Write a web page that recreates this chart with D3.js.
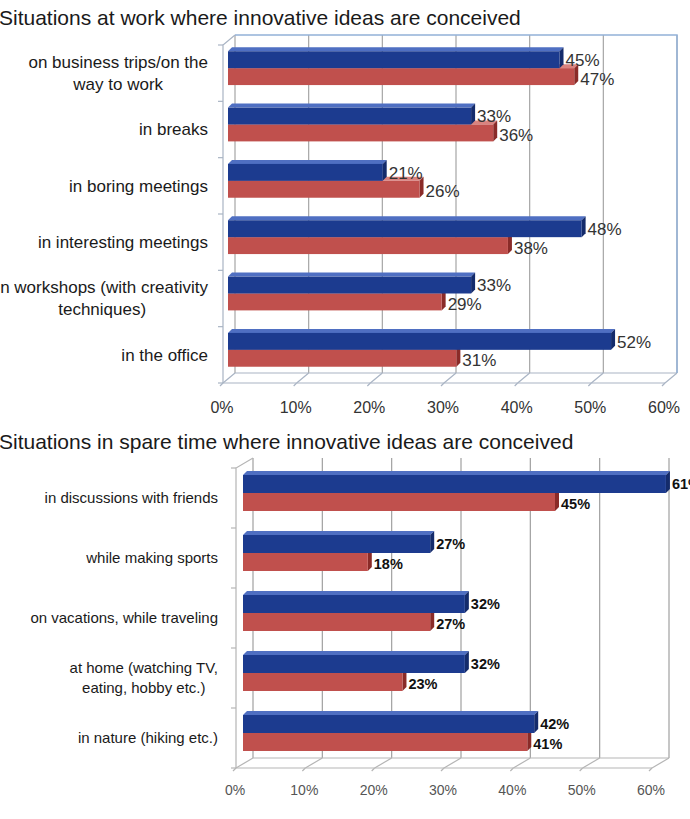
<!DOCTYPE html>
<html>
<head>
<meta charset="utf-8">
<script src="https://cdn.jsdelivr.net/npm/d3@7"></script>
<style>
  body { margin: 0; background: #fff; }
  svg { display: block; font-family: "Liberation Sans", Arial, sans-serif; }
</style>
</head>
<body>
<svg id="svg" width="690" height="819"></svg>
<script>
// chart data
var workTitle = "Situations at work where innovative ideas are conceived";
var workCategories = [
  ["on business trips/on the", "way to work"],
  ["in breaks"],
  ["in boring meetings"],
  ["in interesting meetings"],
  ["in workshops (with creativity", "techniques)"],
  ["in the office"]
];
var workBlue = [45, 33, 21, 48, 33, 52];
var workRed = [47, 36, 26, 38, 29, 31];

var spareTitle = "Situations in spare time where innovative ideas are conceived";
var spareCategories = [
  ["in discussions with friends"],
  ["while making sports"],
  ["on vacations, while traveling"],
  ["at home (watching TV,", "eating, hobby etc.)"],
  ["in nature (hiking etc.)"]
];
var spareBlue = [61, 27, 32, 32, 42];
var spareRed = [45, 18, 27, 23, 41];

var tickValues = [0, 10, 20, 30, 40, 50, 60];

var blue = { front: "#1c3b8f", top: "#4f6fc2", side: "#142b6b" };
var red = { front: "#c0504d", top: "#d9837f", side: "#8a2b28" };

var svg = d3.select("#svg");

function draw(cfg) {
  var g = svg.append("g");

  // title
  g.append("text")
    .attr("x", -1)
    .attr("y", cfg.titleY)
    .attr("font-size", 21)
    .attr("fill", "#1a1a1a")
    .text(cfg.title);

  // front scale (floor edge) and band scale
  var scaleX = d3.scaleLinear().domain([0, 60]).range([cfg.x0, cfg.x1]);
  var scaleY = d3.scaleBand()
    .domain(d3.range(cfg.categories.length))
    .range([cfg.yTop, cfg.yBottom])
    .paddingInner(0.4)
    .paddingOuter(0.2);
  var barH = scaleY.bandwidth() / 2;
  var dx = cfg.dx, dy = cfg.dy;           // back wall offset
  var bx = cfg.barDx, by = cfg.barDy;     // bar offset inside depth
  var d = 4;                              // bar depth

  // back wall gridlines
  g.selectAll(".grid")
    .data(tickValues)
    .enter()
    .append("line")
    .attr("x1", function(v) { return scaleX(v) + dx; })
    .attr("x2", function(v) { return scaleX(v) + dx; })
    .attr("y1", cfg.yTop + dy)
    .attr("y2", cfg.yBottom + dy)
    .attr("stroke", cfg.gridColor)
    .attr("stroke-width", 1.2);

  // floor diagonals
  g.selectAll(".floor")
    .data(tickValues)
    .enter()
    .append("line")
    .attr("x1", function(v) { return scaleX(v); })
    .attr("x2", function(v) { return scaleX(v) + dx; })
    .attr("y1", cfg.yBottom)
    .attr("y2", cfg.yBottom + dy)
    .attr("stroke", cfg.floorColor)
    .attr("stroke-width", 1.2);

  // floor edges
  g.append("line")
    .attr("x1", scaleX(0)).attr("x2", scaleX(60))
    .attr("y1", cfg.yBottom).attr("y2", cfg.yBottom)
    .attr("stroke", cfg.floorColor).attr("stroke-width", 1.2);
  g.append("line")
    .attr("x1", scaleX(0) + dx).attr("x2", scaleX(60) + dx)
    .attr("y1", cfg.yBottom + dy).attr("y2", cfg.yBottom + dy)
    .attr("stroke", cfg.floorColor).attr("stroke-width", 1.2);

  // left wall
  g.append("path")
    .attr("d", "M" + scaleX(0) + "," + cfg.yBottom +
      "V" + cfg.yTop +
      "L" + (scaleX(0) + dx) + "," + (cfg.yTop + dy))
    .attr("fill", "none")
    .attr("stroke", cfg.floorColor)
    .attr("stroke-width", 1.2);

  if (cfg.border) {
    g.append("path")
      .attr("d", "M" + (scaleX(0) + dx) + "," + (cfg.yTop + dy) +
        "H" + (scaleX(60) + dx) +
        "V" + (cfg.yBottom + dy))
      .attr("fill", "none")
      .attr("stroke", cfg.border)
      .attr("stroke-width", 1.5);
  }

  // left axis ticks
  var bounds = cfg.categories.map(function(c, i) { return cfg.yTop + i * scaleY.step(); });
  bounds.push(cfg.yBottom);
  g.selectAll(".ytick")
    .data(bounds)
    .enter()
    .append("line")
    .attr("x1", scaleX(0) - 5).attr("x2", scaleX(0))
    .attr("y1", function(y) { return y; })
    .attr("y2", function(y) { return y; })
    .attr("stroke", cfg.floorColor).attr("stroke-width", 1.2);

  // bottom axis ticks and labels
  g.selectAll(".xtick")
    .data(tickValues)
    .enter()
    .append("line")
    .attr("x1", function(v) { return scaleX(v); })
    .attr("x2", function(v) { return scaleX(v) - 3; })
    .attr("y1", cfg.yBottom)
    .attr("y2", cfg.yBottom + 3)
    .attr("stroke", cfg.floorColor).attr("stroke-width", 1.2);

  g.selectAll(".xlabel")
    .data(tickValues)
    .enter()
    .append("text")
    .attr("x", function(v) { return scaleX(v) - 1; })
    .attr("y", cfg.yBottom + cfg.tickLabelDy)
    .attr("text-anchor", "middle")
    .attr("font-size", cfg.tickSize)
    .attr("fill", cfg.tickColor)
    .text(function(v) { return v + "%"; });

  // category labels (centred lines, right-aligned block)
  cfg.categories.forEach(function(lines, i) {
    var cy = scaleY(i) + scaleY.bandwidth() / 2;
    var t = g.append("text")
      .attr("font-size", cfg.catSize)
      .attr("fill", "#1a1a1a")
      .attr("text-anchor", "middle");
    var spans = lines.map(function(line, k) {
      return t.append("tspan")
        .attr("y", cy + (k - (lines.length - 1) / 2) * cfg.lineH + cfg.catSize * 0.35)
        .text(line);
    });
    var w = d3.max(spans, function(s) { return s.node().getComputedTextLength(); });
    spans.forEach(function(s) { s.attr("x", cfg.catRight - w / 2); });
  });

  // bars
  function bar3d(x0, x1, y, h, col) {
    var b = g.append("g");
    b.append("polygon")
      .attr("points", [[x0, y], [x0 + d, y - d], [x1 + d, y - d], [x1, y]].join(" "))
      .attr("fill", col.top);
    b.append("polygon")
      .attr("points", [[x1, y], [x1 + d, y - d], [x1 + d, y + h - d], [x1, y + h]].join(" "))
      .attr("fill", col.side);
    b.append("rect")
      .attr("x", x0).attr("y", y)
      .attr("width", x1 - x0).attr("height", h)
      .attr("fill", col.front);
  }

  cfg.categories.forEach(function(c, i) {
    var yb = scaleY(i) + by;
    var xs = scaleX(0) + bx;
    bar3d(xs, scaleX(cfg.red[i]) + bx, yb + barH, barH, red);
    bar3d(xs, scaleX(cfg.blue[i]) + bx, yb, barH, blue);
  });

  // value labels
  var labels = [];
  cfg.categories.forEach(function(c, i) {
    labels.push({ v: cfg.blue[i], y: scaleY(i) + by + barH / 2 });
    labels.push({ v: cfg.red[i], y: scaleY(i) + by + barH * 1.5 + 2 });
  });
  g.selectAll(".val")
    .data(labels)
    .enter()
    .append("text")
    .attr("x", function(l) { return scaleX(l.v) + bx + d + 2; })
    .attr("y", function(l) { return l.y + cfg.valSize * 0.36; })
    .attr("font-size", cfg.valSize)
    .attr("font-weight", cfg.valWeight)
    .attr("fill", cfg.valColor)
    .text(function(l) { return l.v + "%"; });
}

draw({
  title: workTitle, titleY: 25,
  categories: workCategories, blue: workBlue, red: workRed,
  x0: 223, x1: 665, yTop: 45, yBottom: 383,
  dx: 12, dy: -10, barDx: 5, barDy: -5,
  gridColor: "#a5a5a5", floorColor: "#a9b4c4", border: "#93b1d8",
  tickSize: 16, tickColor: "#333", tickLabelDy: 30,
  catSize: 17, catRight: 208, lineH: 22,
  valSize: 17, valWeight: "normal", valColor: "#333"
});

draw({
  title: spareTitle, titleY: 449,
  categories: spareCategories, blue: spareBlue, red: spareRed,
  x0: 236, x1: 652, yTop: 468, yBottom: 768,
  dx: 17, dy: -10, barDx: 7, barDy: -5,
  gridColor: "#a0a0a0", floorColor: "#b5b5b5", border: null,
  tickSize: 14, tickColor: "#555", tickLabelDy: 27,
  catSize: 15, catRight: 218, lineH: 20,
  valSize: 14.5, valWeight: "bold", valColor: "#111"
});
</script>
</body>
</html>
